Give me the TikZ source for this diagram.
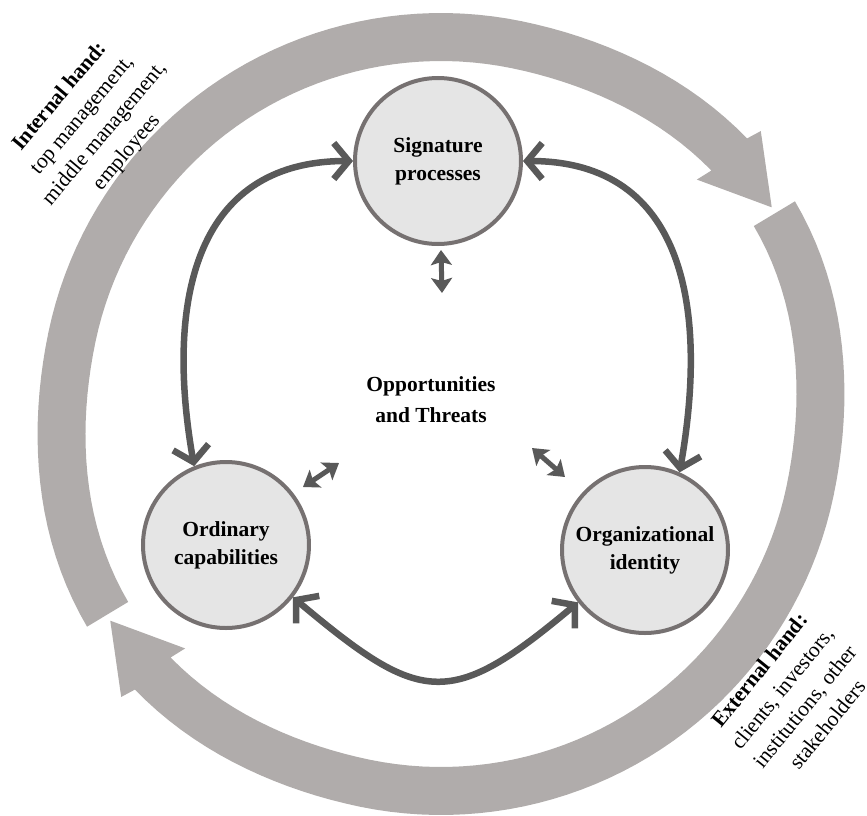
\documentclass[tikz,border=0pt]{standalone}
\usepackage{fontspec}
\setmainfont{Liberation Serif}
\usetikzlibrary{arrows.meta}
\definecolor{ringgray}{RGB}{176,172,171}
\definecolor{discfill}{RGB}{229,229,229}
\definecolor{discline}{RGB}{118,113,113}
\definecolor{linkgray}{RGB}{89,89,89}
% slight outward swell of the outer ring near the two arrow joints
\newcommand\ringbump[1]{(12*(max(0,cos(2*((#1)-33))))^2)}
\begin{document}
\begin{tikzpicture}[x=1pt,y=1pt,
  disc/.style={circle, draw=discline, line width=4pt, fill=discfill,
    minimum size=166pt, inner sep=0pt, align=center,
    font=\fontsize{21.5}{28}\selectfont\bfseries},
  centrelabel/.style={align=center, font=\fontsize{21.5}{31}\selectfont\bfseries},
  handlabel/.style={align=center, font=\fontsize{21.5}{29}\selectfont},
  link/.style={draw=linkgray, line width=6.5pt,
    {Straight Barb[length=15pt,width=36pt]}-{Straight Barb[length=15pt,width=36pt]}},
  minilink/.style={draw=linkgray, line width=5pt,
    {Stealth[length=15pt,width=21pt,inset=3pt]}-{Stealth[length=15pt,width=21pt,inset=3pt]}}
]
\useasboundingbox (-441,-401) rectangle (426,414);

% outer ring: two block arrows running clockwise
\fill[ringgray]
  plot[domain=211:42,samples=80] (\x:{401+\ringbump{\x}})
  -- (41.5:427) -- (32:390) -- (42.5:347)
  -- plot[domain=42:211,samples=80] (\x:{353+\ringbump{\x}}) -- cycle;
\fill[ringgray]
  plot[domain=31:-138,samples=80] (\x:{401+\ringbump{\x}})
  -- (-138.5:427) -- (-148:390) -- (-137.5:347)
  -- plot[domain=-138:31,samples=80] (\x:{353+\ringbump{\x}}) -- cycle;

% the three elements
\node[disc] (sig) at (-3,253) {Signature\\processes};
\node[disc] (ord) at (-215,-131) {Ordinary\\capabilities};
\node[disc] (org) at (204,-136) {Organizational\\identity};

\node[centrelabel] (env) at (-10,14) {Opportunities\\and Threats};

% links between the elements
\draw[link] (sig.180) to[out=180,in=100,looseness=1.2] (ord.112);
\draw[link] (sig.0) to[out=0,in=80,looseness=1.2] (org.66);
\draw[link] (ord.-38) to[out=-40,in=-140,looseness=1.5] (org.218);

% exchanges with the environment
\coordinate (e1a) at (0,164);
\coordinate (e1b) at (1,121);
\coordinate (e2a) at (-138,-73);
\coordinate (e2b) at (-102,-49);
\coordinate (e3a) at (91,-34);
\coordinate (e3b) at (124,-63);
\draw[minilink] (e1a) -- (e1b);
\draw[minilink] (e2a) -- (e2b);
\draw[minilink] (e3a) -- (e3b);

% the two hands
\node[handlabel, rotate=50] (internal) at (140.2:452)
  {\textbf{Internal hand:}\\top management,\\middle management,\\employees};
\node[handlabel, rotate=51] (external) at (321.2:452)
  {\textbf{External hand:}\\clients, investors,\\institutions, other\\stakeholders};
\end{tikzpicture}
\end{document}
